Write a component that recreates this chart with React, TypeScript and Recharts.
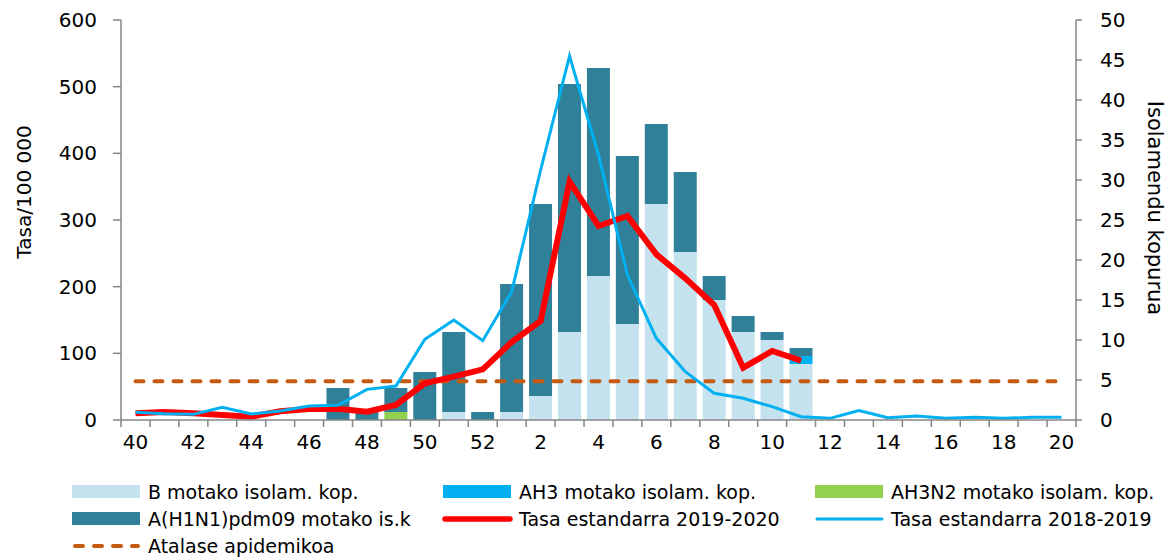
import React from "react";
import {
  Bar,
  ComposedChart,
  Line,
  ReferenceLine,
  XAxis,
  YAxis,
} from "recharts";

const FONT = "DejaVu Sans";
const AXIS = "#868686";

const B_COLOR = "#C5E3EE";
const AH3_COLOR = "#00B0F0";
const AH3N2_COLOR = "#92D050";
const H1N1_COLOR = "#31809A";
const RATE_2020 = "#FF0000";
const RATE_2019 = "#00B0F0";
const THRESH_COLOR = "#C55A11";

const weeks = [
  "40", "41", "42", "43", "44", "45", "46", "47", "48", "49", "50", "51", "52",
  "1", "2", "3", "4", "5", "6", "7", "8", "9", "10", "11", "12", "13", "14",
  "15", "16", "17", "18", "19", "20",
];

// isolation counts (right axis)
const bType = [0, 0, 0, 0, 0, 0, 0, 0, 0, 0, 0, 1, 0, 1, 3, 11, 18, 12, 27, 21, 15, 11, 10, 7, 0, 0, 0, 0, 0, 0, 0, 0, 0];
const ah3 = [0, 0, 0, 0, 0, 0, 0, 0, 0, 0, 0, 0, 0, 0, 0, 0, 0, 0, 0, 0, 0, 0, 0, 1, 0, 0, 0, 0, 0, 0, 0, 0, 0];
const ah3n2 = [0, 0, 0, 0, 0, 0, 0, 0, 0, 1, 0, 0, 0, 0, 0, 0, 0, 0, 0, 0, 0, 0, 0, 0, 0, 0, 0, 0, 0, 0, 0, 0, 0];
const h1n1 = [0, 0, 0, 0, 0, 0, 0, 4, 1, 3, 6, 10, 1, 16, 24, 31, 26, 21, 10, 10, 3, 2, 1, 1, 0, 0, 0, 0, 0, 0, 0, 0, 0];

// rates per 100 000 (left axis)
const rate2020 = [10, 12, 10, 7.5, 5, 13, 16.5, 17, 12.5, 22.5, 55, 65, 76, 117, 148.5, 357.5, 291, 306, 248.5, 212.5, 172.5, 78.5, 103.5, 89,
  null, null, null, null, null, null, null, null, null];
const rate2019 = [11.5, 9.5, 8.5, 19, 9, 13.5, 21, 22, 46, 51, 121, 150, 119, 192.5, 375, 546, 397.5, 217.5, 122.5, 72.5, 40, 32.5, 20, 5,
  2.5, 14, 3.5, 6, 2.5, 4, 2.5, 4, 4];

const THRESHOLD = 58;

const leftTicks = [0, 100, 200, 300, 400, 500, 600];
const rightTicks = [0, 5, 10, 15, 20, 25, 30, 35, 40, 45, 50];

const data = weeks.map((week, i) => ({
  week,
  b: bType[i],
  ah3: ah3[i],
  ah3n2: ah3n2[i],
  h1n1: h1n1[i],
  r2020: rate2020[i],
  r2019: rate2019[i],
}));

function WeekTick(props: any) {
  const { x, y, payload, index } = props;
  const half = payload?.offset ?? 955 / 33 / 2;
  const last = index === weeks.length - 1;
  return (
    <g>
      <line x1={x - half} x2={x - half} y1={y} y2={y + 7} stroke={AXIS} strokeWidth={1.5} />
      {last ? <line x1={x + half} x2={x + half} y1={y} y2={y + 7} stroke={AXIS} strokeWidth={1.5} /> : null}
      {index % 2 === 0 ? (
        <text x={x} y={y + 29} textAnchor="middle" fontSize={20} fontFamily={FONT} fill="#000">
          {payload.value}
        </text>
      ) : null}
    </g>
  );
}

const legendItems = [
  { label: "B motako isolam. kop.", kind: "rect", color: B_COLOR, col: 0, row: 0 },
  { label: "AH3 motako isolam. kop.", kind: "rect", color: AH3_COLOR, col: 1, row: 0 },
  { label: "AH3N2 motako isolam. kop.", kind: "rect", color: AH3N2_COLOR, col: 2, row: 0 },
  { label: "A(H1N1)pdm09 motako is.k", kind: "rect", color: H1N1_COLOR, col: 0, row: 1 },
  { label: "Tasa estandarra 2019-2020", kind: "thick", color: RATE_2020, col: 1, row: 1 },
  { label: "Tasa estandarra 2018-2019", kind: "thin", color: RATE_2019, col: 2, row: 1 },
  { label: "Atalase apidemikoa", kind: "dash", color: THRESH_COLOR, col: 0, row: 2 },
];

const colX = [72, 443, 815];
const rowY = [492, 519, 546];

function ChartLegend() {
  return (
    <svg width={1174} height={90} style={{ position: "absolute", left: 0, top: 470 }}>
      {legendItems.map((it) => {
        const x = colX[it.col];
        const cy = rowY[it.row] - 470;
        let sw: React.ReactNode = null;
        if (it.kind === "rect") sw = <rect x={x} y={cy - 7} width={68} height={13} fill={it.color} />;
        if (it.kind === "thick") sw = <line x1={x + 2} x2={x + 67} y1={cy} y2={cy} stroke={it.color} strokeWidth={5.5} strokeLinecap="round" />;
        if (it.kind === "thin") sw = <line x1={x + 2} x2={x + 67} y1={cy} y2={cy} stroke={it.color} strokeWidth={3} strokeLinecap="round" />;
        if (it.kind === "dash")
          sw = <line x1={x + 3} x2={x + 66} y1={cy} y2={cy} stroke={it.color} strokeWidth={4} strokeDasharray="8 11" strokeLinecap="round" />;
        return (
          <g key={it.label}>
            {sw}
            <text x={x + 76} y={cy + 7} fontSize={19} fontFamily={FONT} fill="#000">
              {it.label}
            </text>
          </g>
        );
      })}
    </svg>
  );
}

export default function App() {
  return (
    <div style={{ position: "absolute", left: 0, top: 0, width: 1174, height: 560, background: "#fff", fontFamily: FONT }}>
      <ComposedChart
        width={1174}
        height={560}
        data={data}
        margin={{ top: 20, right: 0, bottom: 110, left: 0 }}
        barCategoryGap="10%"
      >
        <XAxis
          dataKey="week"
          height={30}
          interval={0}
          tickLine={false}
          tickSize={0}
          tickMargin={0}
          axisLine={{ stroke: AXIS, strokeWidth: 1.5 }}
          tick={<WeekTick />}
        />
        <YAxis
          yAxisId="left"
          width={121}
          domain={[0, 600]}
          ticks={leftTicks}
          tickSize={8}
          tickMargin={16}
          axisLine={{ stroke: AXIS, strokeWidth: 1.5 }}
          tickLine={{ stroke: AXIS, strokeWidth: 1.5 }}
          tick={{ fontSize: 20, fill: "#000", fontFamily: FONT }}
          label={() => (
            <text x={24} y={192} transform="rotate(-90 24 192)" textAnchor="middle" dominantBaseline="central" fontSize={20} fontFamily={FONT} fill="#000">
              Tasa/100 000
            </text>
          )}
        />
        <YAxis
          yAxisId="right"
          orientation="right"
          width={98}
          domain={[0, 50]}
          ticks={rightTicks}
          tickSize={6}
          tickMargin={18}
          axisLine={{ stroke: AXIS, strokeWidth: 1.5 }}
          tickLine={{ stroke: AXIS, strokeWidth: 1.5 }}
          tick={{ fontSize: 20, fill: "#000", fontFamily: FONT }}
          label={() => (
            <text x={1155} y={208} transform="rotate(90 1155 208)" textAnchor="middle" dominantBaseline="central" fontSize={21} fontFamily={FONT} fill="#000">
              Isolamendu kopurua
            </text>
          )}
        />
        <Bar yAxisId="right" dataKey="b" stackId="iso" fill={B_COLOR} isAnimationActive={false} />
        <Bar yAxisId="right" dataKey="ah3" stackId="iso" fill={AH3_COLOR} isAnimationActive={false} />
        <Bar yAxisId="right" dataKey="ah3n2" stackId="iso" fill={AH3N2_COLOR} isAnimationActive={false} />
        <Bar yAxisId="right" dataKey="h1n1" stackId="iso" fill={H1N1_COLOR} isAnimationActive={false} />
        <ReferenceLine
          yAxisId="left"
          segment={[
            { x: weeks[0], y: THRESHOLD },
            { x: weeks[weeks.length - 1], y: THRESHOLD },
          ]}
          stroke={THRESH_COLOR}
          strokeWidth={4}
          strokeDasharray="8 11"
          strokeLinecap="round"
        />
        <Line
          yAxisId="left"
          dataKey="r2020"
          stroke={RATE_2020}
          strokeWidth={6}
          dot={false}
          activeDot={false}
          isAnimationActive={false}
        />
        <Line
          yAxisId="left"
          dataKey="r2019"
          stroke={RATE_2019}
          strokeWidth={3}
          dot={false}
          activeDot={false}
          isAnimationActive={false}
        />
      </ComposedChart>
      <ChartLegend />
    </div>
  );
}
